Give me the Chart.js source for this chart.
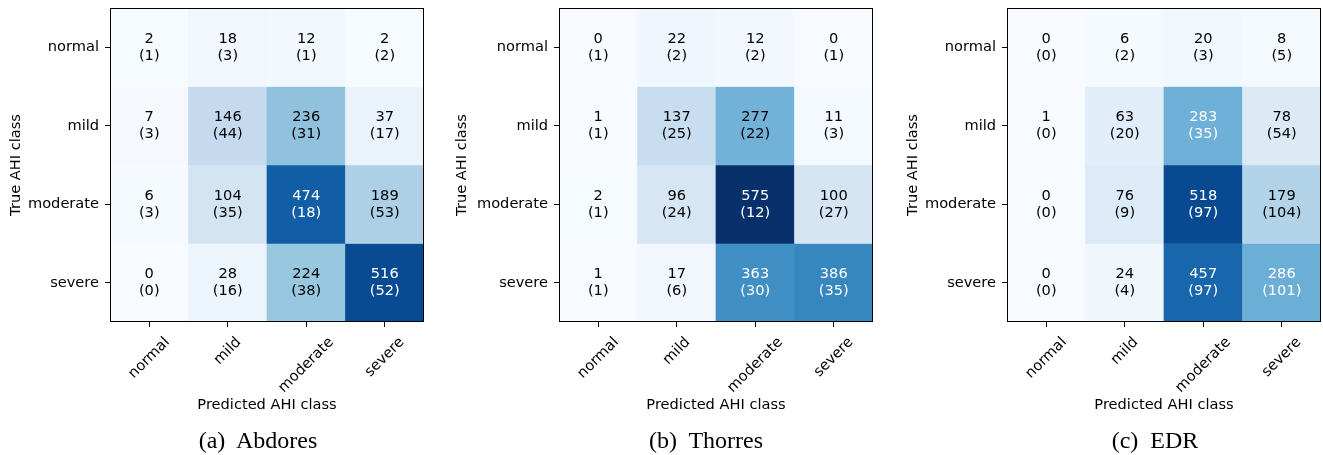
<!DOCTYPE html>
<html>
<head>
<meta charset="utf-8">
<script src="https://cdn.jsdelivr.net/npm/chart.js@4.4.1/dist/chart.umd.min.js"></script>
<style>
  body { margin: 0; background: #fff; width: 1323px; height: 455px; position: relative; overflow: hidden; }
  .panel { position: absolute; top: 0; height: 455px; }
  .caption {
    position: absolute; top: 426px; line-height: 28px;
    font-family: "Liberation Serif", "DejaVu Serif", serif; font-size: 24px;
    white-space: pre; transform: translateX(-50%); color: #000;
  }
</style>
</head>
<body>
<div class="panel" style="left:0px;width:440px"><canvas id="abdores" width="440" height="455"></canvas></div>
<div class="panel" style="left:440px;width:445px"><canvas id="thorres" width="445" height="455"></canvas></div>
<div class="panel" style="left:885px;width:438px"><canvas id="edr" width="438" height="455"></canvas></div>
<div class="caption" id="capA" style="left:258px"></div>
<div class="caption" id="capB" style="left:706px"></div>
<div class="caption" id="capC" style="left:1155px"></div>

<script>
// classes, used for both axes (rows = true, columns = predicted)
const classes = ['normal', 'mild', 'moderate', 'severe'];

// counts and (bracketed) values, row per true class
const abdoresCounts = [[2, 18, 12, 2], [7, 146, 236, 37], [6, 104, 474, 189], [0, 28, 224, 516]];
const abdoresBracket = [[1, 3, 1, 2], [3, 44, 31, 17], [3, 35, 18, 53], [0, 16, 38, 52]];

const thorresCounts = [[0, 22, 12, 0], [1, 137, 277, 11], [2, 96, 575, 100], [1, 17, 363, 386]];
const thorresBracket = [[1, 2, 2, 1], [1, 25, 22, 3], [1, 24, 12, 27], [1, 6, 30, 35]];

const edrCounts = [[0, 6, 20, 8], [1, 63, 283, 78], [0, 76, 518, 179], [0, 24, 457, 286]];
const edrBracket = [[0, 2, 3, 5], [0, 20, 35, 54], [0, 9, 97, 104], [0, 4, 97, 101]];

const captions = ['(a)  Abdores', '(b)  Thorres', '(c)  EDR'];

// matplotlib "Blues"
const bluesStops = ['#f7fbff', '#deebf7', '#c6dbef', '#9ecae1', '#6baed6', '#4292c6', '#2171b5', '#08519c', '#08306b'];
function hexRgb(h) {
    return [parseInt(h.slice(1, 3), 16), parseInt(h.slice(3, 5), 16), parseInt(h.slice(5, 7), 16)];
}
function blues(t) {
    t = Math.max(0, Math.min(1, t)) * (bluesStops.length - 1);
    const i = Math.min(Math.floor(t), bluesStops.length - 2);
    const f = t - i;
    const a = hexRgb(bluesStops[i]), b = hexRgb(bluesStops[i + 1]);
    const c = a.map((v, k) => Math.round(v + (b[k] - v) * f));
    return 'rgb(' + c.join(',') + ')';
}

const colourMax = Math.max(...[abdoresCounts, thorresCounts, edrCounts].map(m => Math.max(...m.flat())));
const font = '"DejaVu Sans", sans-serif';
const fontSize = 14.6;

function drawMatrix(canvasId, counts, bracket, layout) {
    const panelMax = Math.max(...counts.flat());

    const cellText = {
        id: 'cellText',
        afterDatasetsDraw(chart) {
            const ctx = chart.ctx;
            const area = chart.chartArea;
            ctx.save();
            ctx.font = fontSize + 'px ' + font;
            ctx.textAlign = 'center';
            ctx.textBaseline = 'middle';
            chart.data.datasets.forEach((ds, i) => {
                chart.getDatasetMeta(i).data.forEach((bar, j) => {
                    const c = bar.getCenterPoint();
                    ctx.fillStyle = counts[i][j] > panelMax / 2 ? '#fff' : '#000';
                    ctx.fillText(String(counts[i][j]), c.x, c.y - 8.5);
                    ctx.fillText('(' + bracket[i][j] + ')', c.x, c.y + 8.5);
                });
            });

            // axes frame
            ctx.strokeStyle = '#000';
            ctx.lineWidth = 1;
            ctx.strokeRect(area.left + 0.5, area.top + 0.5, area.right - area.left - 1, area.bottom - area.top - 1);

            // x tick labels, rotated 45deg and centred under the tick
            const xs = chart.scales.x;
            ctx.fillStyle = '#000';
            classes.forEach((name, j) => {
                const x = xs.getPixelForTick(j);
                const w = ctx.measureText(name).width;
                const cy = area.bottom + 12 + (w + fontSize * 1.164) * Math.SQRT1_2 / 2;
                ctx.save();
                ctx.translate(x, cy);
                ctx.rotate(-Math.PI / 4);
                ctx.fillText(name, 0, 0);
                ctx.restore();
            });
            ctx.restore();
        }
    };

    new Chart(document.getElementById(canvasId), {
        type: 'bar',
        data: {
            labels: classes,
            datasets: classes.map((rowName, i) => ({
                label: rowName,
                data: classes.map(() => 1),
                backgroundColor: counts[i].map(v => blues(v / colourMax)),
                borderWidth: 0,
                categoryPercentage: 1,
                barPercentage: 1
            }))
        },
        options: {
            responsive: false,
            animation: false,
            events: [],
            layout: { padding: { top: 8, bottom: 30, left: 0, right: layout.padRight } },
            plugins: {
                legend: { display: false },
                tooltip: { enabled: false }
            },
            scales: {
                x: {
                    stacked: true,
                    grid: { display: true, drawOnChartArea: false, offset: false, tickLength: 5, tickColor: '#000', tickWidth: 1 },
                    border: { display: false },
                    ticks: { display: false },
                    title: {
                        display: true, text: 'Predicted AHI class', color: '#000',
                        font: { family: font, size: fontSize }, padding: { top: 0, bottom: 11.2 }
                    },
                    afterFit: s => { s.height = 103; s.paddingLeft = 0; s.paddingRight = 0; }
                },
                y: {
                    stacked: true,
                    reverse: true,
                    min: 0,
                    max: classes.length,
                    grid: { display: true, drawOnChartArea: false, tickLength: 5, tickColor: '#000', tickWidth: 1 },
                    border: { display: false },
                    afterBuildTicks: s => { s.ticks = classes.map((c, i) => ({ value: i + 0.5 })); },
                    ticks: {
                        color: '#000', padding: 6, font: { family: font, size: fontSize },
                        callback: v => classes[Math.floor(v)]
                    },
                    title: {
                        display: true, text: 'True AHI class', color: '#000',
                        font: { family: font, size: fontSize }, padding: { top: layout.yTitlePad, bottom: 0 }
                    },
                    afterFit: s => { s.width = layout.axisWidth; s.paddingTop = 0; s.paddingBottom = 0; }
                }
            }
        },
        plugins: [cellText]
    });
}

drawMatrix('abdores', abdoresCounts, abdoresBracket, { axisWidth: 110, padRight: 16, yTitlePad: 7.2 });
drawMatrix('thorres', thorresCounts, thorresBracket, { axisWidth: 119, padRight: 12, yTitlePad: 13.2 });
drawMatrix('edr', edrCounts, edrBracket, { axisWidth: 122, padRight: 2, yTitlePad: 19.2 });

document.getElementById('capA').textContent = captions[0];
document.getElementById('capB').textContent = captions[1];
document.getElementById('capC').textContent = captions[2];
</script>
</body>
</html>
